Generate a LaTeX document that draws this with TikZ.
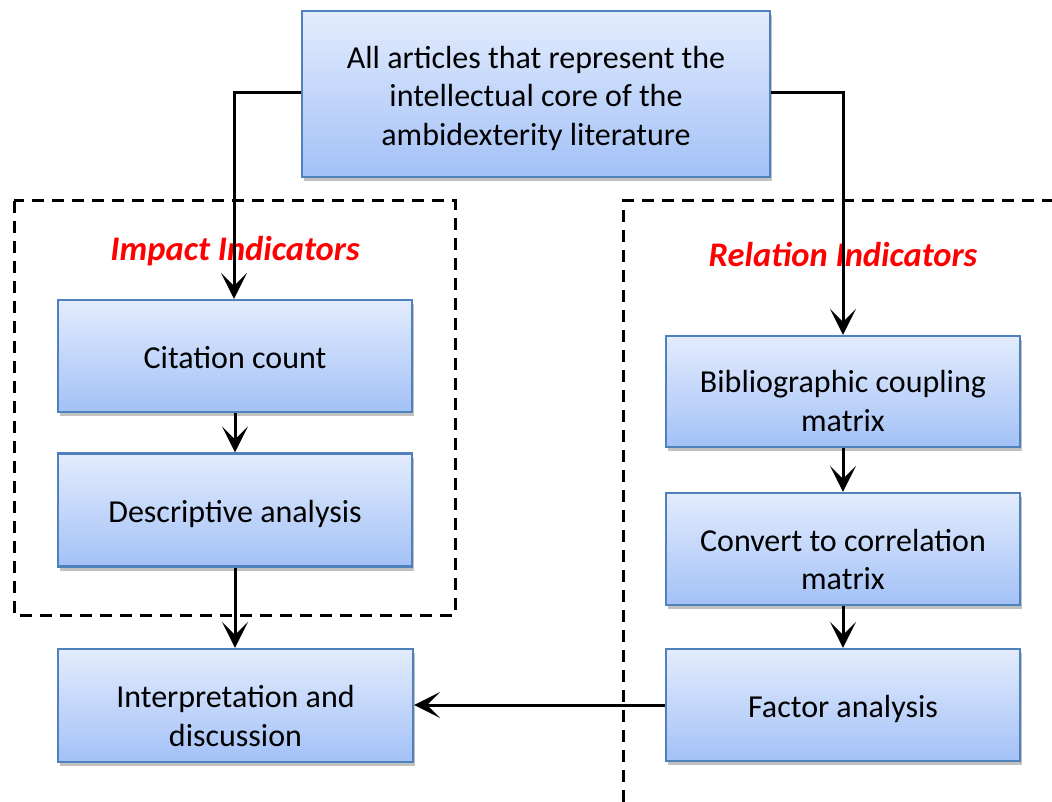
\documentclass[tikz,border=0pt]{standalone}
\usepackage{fontspec}
\setmainfont{Carlito}
\usetikzlibrary{arrows.meta,shadows,positioning}
\definecolor{boxborder}{HTML}{4F81BD}
\definecolor{boxtop}{HTML}{E3ECFD}
\definecolor{boxbot}{HTML}{A3C1F7}
\definecolor{labelred}{HTML}{FF0000}
\newcommand{\boxtext}[2][5pt]{\raisebox{-#1}[\height][\depth]{\begin{tabular}{@{}c@{}}#2\end{tabular}}}
\tikzset{
  flowbox/.style={draw=boxborder, line width=2.2pt, top color=boxtop, bottom color=boxbot,
    align=center, inner sep=0pt, font=\fontsize{32}{38.5}\selectfont,
    drop shadow={shadow xshift=1.5pt, shadow yshift=-4pt, opacity=0.35, fill=black!70}},
  conn/.style={line width=3pt, -{Stealth[length=26pt,width=26pt,inset=13pt]}},
  groupframe/.style={line width=3pt, dash pattern=on 12pt off 8pt},
  grouplabel/.style={text=labelred, font=\fontsize{34.5}{40}\selectfont\bfseries\itshape}
}
\begin{document}
\begin{tikzpicture}[x=1pt,y=-1pt]
\useasboundingbox (0,0) rectangle (1052,802);
% dashed group frames
\draw[groupframe] (14,201) rectangle (455,615);
\draw[groupframe] (623,802) -- (623,201) -- (1052,201);
% boxes
\node[flowbox, minimum width=468pt, minimum height=166pt] (top) at (536,94)
  {\boxtext{All articles that represent the\\intellectual core of the\\ambidexterity literature}};
\node[flowbox, minimum width=354pt, minimum height=112pt] (cite) at (235,356) {\boxtext{Citation count}};
\node[flowbox, minimum width=354pt, minimum height=113pt] (desc) at (235,510) {\boxtext{Descriptive analysis}};
\node[flowbox, minimum width=355pt, minimum height=113pt] (interp) at (235.5,705.5) {\boxtext[14pt]{Interpretation and\\discussion}};
\node[flowbox, minimum width=354pt, minimum height=111pt] (bib) at (843,391.5) {\boxtext[13pt]{Bibliographic coupling\\matrix}};
\node[flowbox, minimum width=354pt, minimum height=112pt] (conv) at (843,549) {\boxtext[14pt]{Convert to correlation\\matrix}};
\node[flowbox, minimum width=354pt, minimum height=112pt] (fact) at (843,705) {\boxtext{Factor analysis}};
% group labels
\node[grouplabel] (implab) at (235,251) {Impact Indicators};
\node[grouplabel] (rellab) at (843,255) {Relation Indicators};
% connectors
\coordinate (lc) at (234,93);
\coordinate (rc) at (843,93);
\draw[conn] (top.west |- lc) -- (lc) -- (cite.north -| lc);
\draw[conn] (top.east |- rc) -- (rc) -- (bib.north);
\draw[conn] (cite.south) -- (desc.south |- desc.north);
\draw[conn] (desc.south) -- (interp.north -| desc.south);
\draw[conn] (bib.south) -- (conv.north);
\draw[conn] (conv.south) -- (fact.north);
\draw[conn] (fact.west) -- (interp.east |- fact.west);
\end{tikzpicture}
\end{document}
